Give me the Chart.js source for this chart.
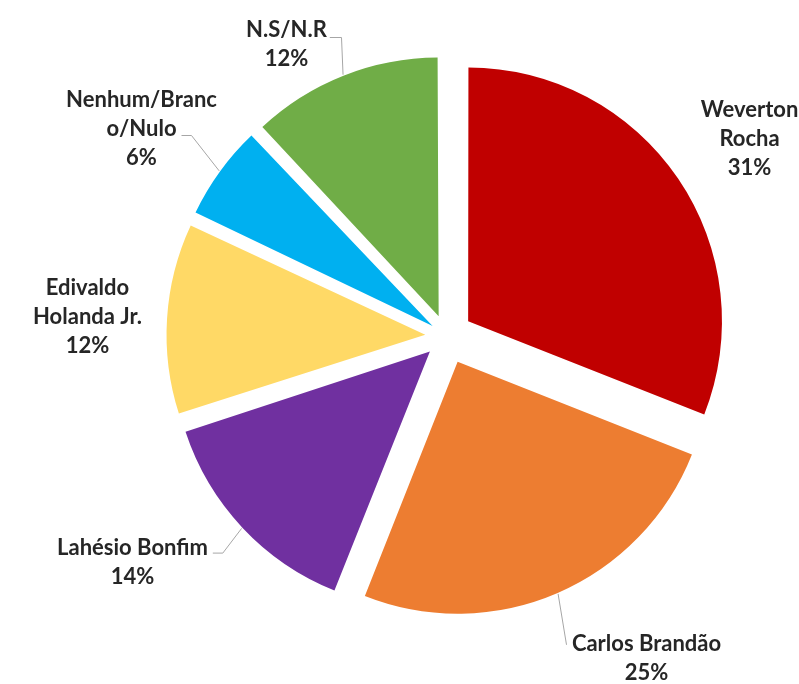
<!DOCTYPE html>
<html><head><meta charset="utf-8">
<script src="https://cdn.jsdelivr.net/npm/chart.js@4"></script>
<style>html,body{margin:0;padding:0;background:#fff;overflow:hidden}#wrap{width:799px;height:684px;position:relative}</style>
</head><body><div id="wrap"><canvas id="c" width="799" height="684"></canvas></div>
<script>
const categories = ['Weverton Rocha', 'Carlos Brandão', 'Lahésio Bonfim', 'Edivaldo Holanda Jr.', 'Nenhum/Branco/Nulo', 'N.S/N.R'];
const values = [31, 25, 14, 12, 6, 12];
const labelLines = [['Weverton', 'Rocha'], ['Carlos Brandão'], ['Lahésio Bonfim'], ['Edivaldo', 'Holanda Jr.'], ['Nenhum/Branc', 'o/Nulo'], ['N.S/N.R']];
const percentLabels = values.map(v => v + '%');
const colors = ['#C00000', '#ED7D31', '#7030A0', '#FFD966', '#00B0F0', '#70AD47'];

// layout (positions relative to pie centre), separate from data
const explode = 28;
const labelLayout = [
  {dx: 303, dy: -219, leader: null},
  {dx: 200, dy: 314.5, leader: [[120, 308.8]]},
  {dx: -314, dy: 219, leader: [[-233.7, 217.1], [-223.7, 217.1]]},
  {dx: -359, dy: -41, leader: null},
  {dx: -305, dy: -229.5, leader: [[-265, -200.5], [-255, -200.5]]},
  {dx: -160, dy: -299.5, leader: [[-116.7, -298.5], [-105, -298.5]]}
];
const FONT = 'bold 22px Lato';
const LINE_H = 29;

const total = values.reduce((a, b) => a + b, 0);
const offsets = values.map(v => {
  const circ = v / total * 2 * Math.PI;
  const fix = 1 - Math.sin(Math.min(Math.PI, circ));
  return 4 * explode / (1 + fix);
});

const labelPlugin = {
  id: 'outLabels',
  afterDraw(chart) {
    const ctx = chart.ctx;
    const meta = chart.getDatasetMeta(0);
    ctx.save();
    meta.data.forEach((arc, i) => {
      const p = arc.getProps(['x', 'y', 'startAngle', 'endAngle', 'outerRadius', 'circumference']);
      const half = (p.startAngle + p.endAngle) / 2;
      const off = offsets[i] / 4;
      const fix = 1 - Math.sin(Math.min(Math.PI, p.circumference));
      const tr = off + off * fix;
      const mx = p.x + Math.cos(half) * (tr + p.outerRadius + 1);
      const my = p.y + Math.sin(half) * (tr + p.outerRadius + 1);
      const L = labelLayout[i];
      if (L.leader) {
        ctx.beginPath();
        ctx.strokeStyle = '#A6A6A6';
        ctx.lineWidth = 1;
        L.leader.forEach((pt, k) => {
          const x = p.x + pt[0], y = p.y + pt[1];
          if (k === 0) ctx.moveTo(x, y); else ctx.lineTo(x, y);
        });
        ctx.lineTo(mx, my);
        ctx.stroke();
      }
      ctx.fillStyle = '#262626';
      ctx.font = FONT;
      ctx.textAlign = 'center';
      ctx.textBaseline = 'alphabetic';
      const lines = labelLines[i].concat([percentLabels[i]]);
      lines.forEach((t, k) => {
        ctx.fillText(t, p.x + L.dx, p.y + L.dy + k * LINE_H);
      });
    });
    ctx.restore();
  }
};

new Chart(document.getElementById('c'), {
  type: 'pie',
  data: {
    labels: categories,
    datasets: [{
      data: values,
      backgroundColor: colors,
      borderWidth: 0,
      offset: offsets
    }]
  },
  options: {
    responsive: false,
    maintainAspectRatio: false,
    devicePixelRatio: 1,
    animation: false,
    events: [],
    radius: 252,
    layout: {padding: {left: 94, right: 0, top: 0, bottom: 12}},
    plugins: {legend: {display: false}, tooltip: {enabled: false}}
  },
  plugins: [labelPlugin]
});
</script>
</body></html>
